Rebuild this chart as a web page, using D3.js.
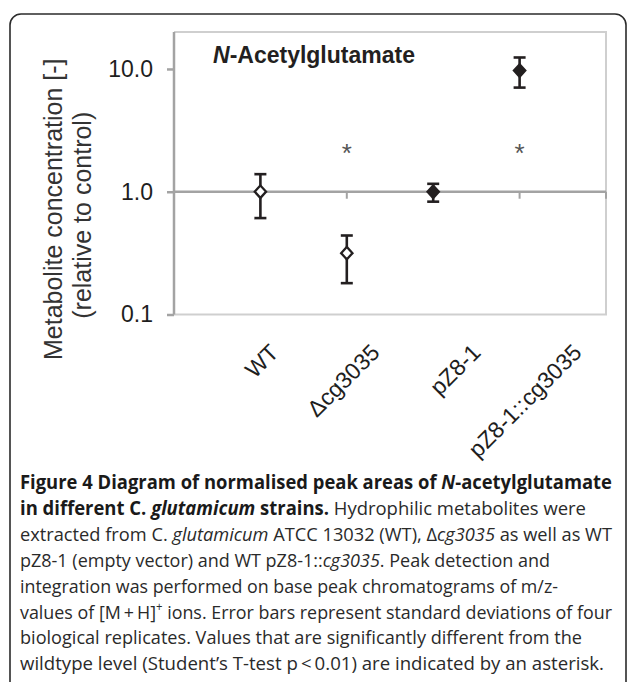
<!DOCTYPE html>
<html>
<head>
<meta charset="utf-8">
<script src="https://cdn.jsdelivr.net/npm/d3@7"></script>
<style>
    html, body { margin: 0; padding: 0; background: #fff; }
    #chart { width: 629px; height: 682px; }
</style>
</head>
<body>
<div id="chart"></div>
<script>
"use strict"

// chart data
let categories = ["WT", "\u0394cg3035", "pZ8-1", "pZ8-1::cg3035"];
let means = [1.0, 0.316, 1.0, 9.7];
let lowerBars = [0.61, 0.18, 0.83, 7.05];
let upperBars = [1.39, 0.44, 1.16, 12.4];
let filled = [false, false, true, true];
let significant = [false, true, false, true];
let asteriskLevel = 2.24;
let yTicks = [0.1, 1, 10];
let xTicks = [2, 4, 5];

// caption lines: [text, style] pieces
let captionLines = [
    [["Figure 4 Diagram of normalised peak areas of ", "b"], ["N", "bi"], ["-acetylglutamate", "b"]],
    [["in different C. ", "b"], ["glutamicum", "bi"], [" strains.", "b"], [" Hydrophilic metabolites were", "r"]],
    [["extracted from C. ", "r"], ["glutamicum", "i"], [" ATCC 13032 (WT), \u0394", "r"], ["cg3035", "i"], [" as well as WT", "r"]],
    [["pZ8-1 (empty vector) and WT pZ8-1::", "r"], ["cg3035", "i"], [". Peak detection and", "r"]],
    [["integration was performed on base peak chromatograms of m/z-", "r"]],
    [["values of [M\u2009+\u2009H]", "r"], ["+", "sup"], [" ions. Error bars represent standard deviations of four", "r"]],
    [["biological replicates. Values that are significantly different from the", "r"]],
    [["wildtype level (Student\u2019s T-test p\u2009<\u20090.01) are indicated by an asterisk.", "r"]]
];
let captionWidths = [592, 566, 592, 530, 538, 592, 562, 584];

let ChartView = function(targetID) {

    let self = {
        svg: null,
        x: null,
        y: null,
        labelX: null
    };

    let ink = "#231f20";
    let axisGray = "#a3a3a3";
    let borderGray = "#cfcfcf";

    init();

    function init() {
        self.svg = d3.select(targetID).append("svg")
            .attr("width", 629)
            .attr("height", 682);

        self.x = d3.scaleLinear()
            .domain([0, 5])
            .range([174, 606]);

        self.y = d3.scaleLog()
            .domain([0.1, 20])
            .range([314.5, 32]);

        // rotated tick labels sit on their own, wider spacing
        self.labelX = d3.scalePoint()
            .domain(categories)
            .range([280, 583]);

        drawFrame();
        drawPlotBox();
        drawYAxis();
        drawBaseline();
        drawPoints();
        drawLabels();
        drawCaption();
    }

    function drawFrame() {
        self.svg.append("rect")
            .attr("x", 10)
            .attr("y", 14)
            .attr("width", 616)
            .attr("height", 700)
            .attr("rx", 11)
            .style("fill", "none")
            .style("stroke", "#2b2b2b")
            .style("stroke-width", "1.6px");
    }

    function drawPlotBox() {
        let [x0, x1] = self.x.range();
        let [y0, y1] = self.y.range();

        // light grey frame on top, right and bottom
        self.svg.append("path")
            .attr("d", `M${x0},${y1}H${x1}V${y0}H${x0}`)
            .style("fill", "none")
            .style("stroke", borderGray)
            .style("stroke-width", "2px");
    }

    function drawYAxis() {
        let axis = d3.axisLeft(self.y)
            .tickValues(yTicks)
            .tickSize(7)
            .tickPadding(14)
            .tickFormat(d3.format(".1f"));

        let g = self.svg.append("g")
            .attr("transform", `translate(${self.x.range()[0]},0)`)
            .call(axis);

        g.select(".domain")
            .attr("d", `M0,${self.y.range()[0]}V${self.y.range()[1]}`)
            .style("stroke", axisGray)
            .style("stroke-width", "2.5px");
        g.selectAll(".tick line")
            .style("stroke", axisGray)
            .style("stroke-width", "2.5px");
        g.selectAll(".tick text")
            .style("font-family", "'Liberation Sans', Arial, sans-serif")
            .style("font-size", "23px")
            .style("fill", "#1e1e1e");

        // axis title, two lines
        let title = self.svg.append("text")
            .attr("transform", `translate(62,${(self.y.range()[0] + self.y.range()[1]) / 2 + 36}) rotate(-90)`)
            .attr("text-anchor", "middle")
            .style("font-family", "'Liberation Sans', Arial, sans-serif")
            .style("font-size", "25px")
            .style("fill", "#333");
        title.append("tspan")
            .attr("x", 0)
            .attr("y", 0)
            .text("Metabolite concentration [-]");
        title.append("tspan")
            .attr("x", -6)
            .attr("dy", 29)
            .text("(relative to control)");

        self.svg.append("text")
            .attr("x", 213)
            .attr("y", 63)
            .style("font-family", "'Liberation Sans', Arial, sans-serif")
            .style("font-size", "23px")
            .style("font-weight", "bold")
            .style("fill", ink)
            .html("<tspan font-style='italic'>N</tspan>-Acetylglutamate");
    }

    function drawBaseline() {
        let yb = self.y(1);
        self.svg.append("line")
            .attr("x1", self.x(0))
            .attr("x2", self.x(5))
            .attr("y1", yb)
            .attr("y2", yb)
            .style("stroke", axisGray)
            .style("stroke-width", "2.5px");

        self.svg.selectAll(".xTick")
            .data(xTicks)
            .enter().append("line")
            .attr("class", "xTick")
            .attr("x1", d => self.x(d))
            .attr("x2", d => self.x(d))
            .attr("y1", yb)
            .attr("y2", yb + 7)
            .style("stroke", axisGray)
            .style("stroke-width", "2px");
    }

    function drawPoints() {
        let capHalf = 6;
        let diamond = d3.symbol().type(d3.symbolDiamond2).size(82);

        for (let i = 0; i < categories.length; i++) {
            let cx = self.x(i + 1);

            // error bar
            self.svg.append("line")
                .attr("x1", cx).attr("x2", cx)
                .attr("y1", self.y(lowerBars[i]))
                .attr("y2", self.y(upperBars[i]))
                .style("stroke", ink)
                .style("stroke-width", "2.6px");
            for (let v of [lowerBars[i], upperBars[i]]) {
                self.svg.append("line")
                    .attr("x1", cx - capHalf).attr("x2", cx + capHalf)
                    .attr("y1", self.y(v)).attr("y2", self.y(v))
                    .style("stroke", ink)
                    .style("stroke-width", "2.6px");
            }

            // marker
            self.svg.append("path")
                .attr("d", diamond())
                .attr("transform", `translate(${cx},${self.y(means[i])}) scale(1,1.1)`)
                .style("fill", filled[i] ? ink : "#fff")
                .style("stroke", ink)
                .style("stroke-width", "2.2px");

            if (significant[i]) {
                self.svg.append("text")
                    .attr("x", cx)
                    .attr("y", self.y(asteriskLevel) + 13)
                    .attr("text-anchor", "middle")
                    .style("font-family", "'Liberation Sans', Arial, sans-serif")
                    .style("font-size", "26px")
                    .style("fill", "#555")
                    .text("*");
            }
        }
    }

    function drawLabels() {
        self.svg.selectAll(".xLabel")
            .data(categories)
            .enter().append("text")
            .attr("class", "xLabel")
            .attr("transform", d => `translate(${self.labelX(d)},354) rotate(-45)`)
            .attr("text-anchor", "end")
            .style("font-family", "'Liberation Sans', Arial, sans-serif")
            .style("font-size", "23px")
            .style("fill", "#1e1e1e")
            .text(d => d);
    }

    function drawCaption() {
        let g = self.svg.append("g");
        captionLines.forEach(function(parts, i) {
            let t = g.append("text")
                .attr("x", 20)
                .attr("y", 489 + i * 25.9)
                .attr("textLength", captionWidths[i])
                .attr("lengthAdjust", "spacingAndGlyphs")
                .style("font-family", "'Open Sans', 'Noto Sans', sans-serif")
                .style("font-size", "19px")
                .style("fill", "#2a2a2a");
            for (let [txt, st] of parts) {
                let sp = t.append("tspan").text(txt);
                if (st === "b" || st === "bi") {
                    sp.style("font-weight", "bold").style("fill", "#1a1a1a");
                }
                if (st === "i" || st === "bi") {
                    sp.style("font-style", "italic");
                }
                if (st === "sup") {
                    sp.attr("baseline-shift", "super").style("font-size", "12px");
                }
            }
        });
    }

    return {};
}

ChartView("#chart");
</script>
</body>
</html>
